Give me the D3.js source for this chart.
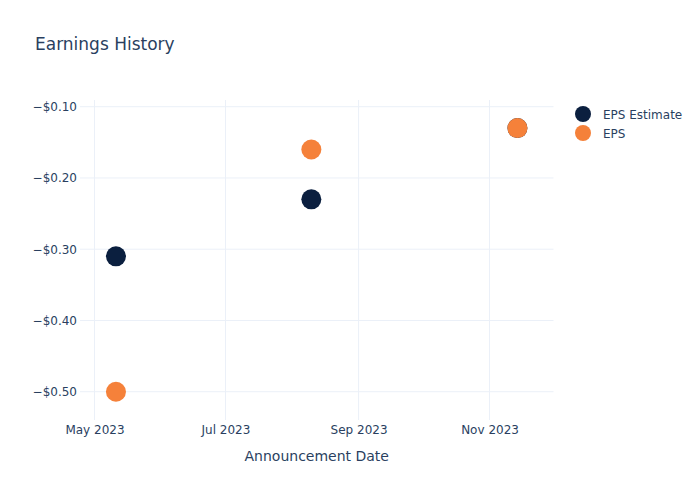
<!DOCTYPE html>
<html><head><meta charset="utf-8">
<script src="https://cdn.jsdelivr.net/npm/d3@7"></script>
<style>body{margin:0;background:#fff}svg{font-family:"DejaVu Sans",sans-serif}</style>
</head><body>
<svg id="c" width="700" height="500"></svg>
<script>
const dates = ["2023-05-11", "2023-08-10", "2023-11-14"];
const epsEstimate = [-0.31, -0.23, -0.13];
const eps = [-0.50, -0.16, -0.13];
const seriesNames = ["EPS Estimate", "EPS"];
const seriesColors = ["#0b1f3f", "#f5813a"];
const xTicks = ["2023-05-01", "2023-07-01", "2023-09-01", "2023-11-01"];
const yTicks = [-0.5, -0.4, -0.3, -0.2, -0.1];

const parse = d3.timeParse("%Y-%m-%d");
const svg = d3.select("#c");
const L = 80, R = 553.5, T = 100, B = 420;
const x = d3.scaleTime().domain([new Date(2023,3,24,6), new Date(2023,10,30,19)]).range([L, R]);
const y = d3.scaleLinear().domain([-0.5397, -0.0906]).range([B, T]);
const txt = "#2a3f5f", grid = "#ebf0f8";
const ff = "'DejaVu Sans',sans-serif";

svg.append("text").attr("x", 35).attr("y", 50).attr("fill", txt).attr("font-size", 17).text("Earnings History");

const g = svg.append("g");
g.selectAll(".vg").data(xTicks).enter().append("line")
  .attr("x1", d => x(parse(d))).attr("x2", d => x(parse(d))).attr("y1", T).attr("y2", B)
  .attr("stroke", grid).attr("stroke-width", 1);
g.selectAll(".hg").data(yTicks).enter().append("line")
  .attr("x1", L).attr("x2", R).attr("y1", d => y(d)).attr("y2", d => y(d))
  .attr("stroke", grid).attr("stroke-width", 1);

const xAxis = d3.axisBottom(x).tickValues(xTicks.map(parse)).tickFormat(d3.timeFormat("%b %Y")).tickSize(0).tickPadding(5);
const xa = svg.append("g").attr("transform", `translate(0,${B})`).call(xAxis);
xa.select(".domain").remove();
xa.selectAll("text").attr("fill", txt).attr("font-size", 12).attr("font-family", ff);

const fmt = v => "\u2212$" + Math.abs(v).toFixed(2);
const yAxis = d3.axisLeft(y).tickValues(yTicks).tickFormat(fmt).tickSize(0).tickPadding(3);
const ya = svg.append("g").attr("transform", `translate(${L},0)`).call(yAxis);
ya.select(".domain").remove();
ya.selectAll("text").attr("fill", txt).attr("font-size", 12).attr("font-family", ff);

svg.append("text").attr("x", (L + R) / 2).attr("y", 461).attr("text-anchor", "middle")
  .attr("fill", txt).attr("font-size", 14).text("Announcement Date");

[epsEstimate, eps].forEach((vals, i) => {
  svg.append("g").selectAll("circle").data(vals).enter().append("circle")
    .attr("cx", (d, j) => x(parse(dates[j]))).attr("cy", d => y(d)).attr("r", 10)
    .attr("fill", seriesColors[i]);
});

const lg = svg.append("g");
seriesNames.forEach((n, i) => {
  lg.append("circle").attr("cx", 583).attr("cy", 114 + i * 19).attr("r", 8).attr("fill", seriesColors[i]);
  lg.append("text").attr("x", 603).attr("y", 118.5 + i * 19).attr("fill", txt).attr("font-size", 12).text(n);
});
</script>
</body></html>
